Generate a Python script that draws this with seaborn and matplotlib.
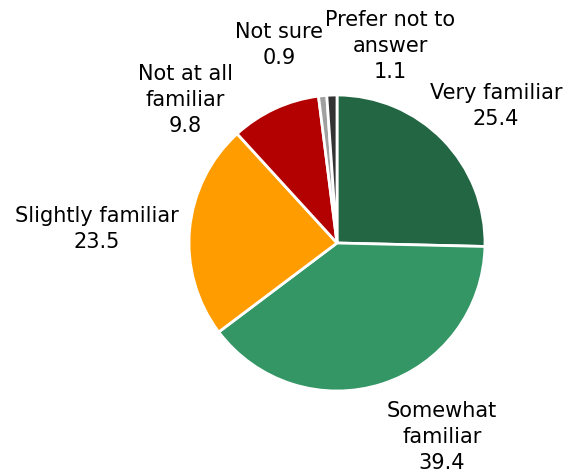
import matplotlib
matplotlib.use("Agg")
import matplotlib.pyplot as plt
import seaborn as sns

categories = ["Very familiar", "Somewhat familiar", "Slightly familiar",
              "Not at all familiar", "Not sure", "Prefer not to answer"]
values = [25.4, 39.4, 23.5, 9.8, 0.9, 1.1]
label_texts = ["Very familiar\n25.4", "Somewhat\nfamiliar\n39.4", "Slightly familiar\n23.5",
               "Not at all\nfamiliar\n9.8", "Not sure\n0.9", "Prefer not to\nanswer\n1.1"]
colors = ["#226644", "#339664", "#FF9C00", "#B30000", "#A0A0A0", "#333333"]

sns.set_theme(style="white")
plt.rcParams['font.family'] = ['DejaVu Sans']

fig = plt.figure(figsize=(5.65, 4.76), dpi=100)
ax = fig.add_axes([0, 0, 1, 1])

H = 476
cx, cy, r = 337, H - 243, 148
ax.pie(values, colors=colors, startangle=90, counterclock=False,
       center=(cx, cy), radius=r, frame=True,
       wedgeprops=dict(edgecolor="white", linewidth=2))
ax.set_xlim(0, 565)
ax.set_ylim(0, 476)
ax.set_aspect("equal")
ax.axis("off")

# label anchor positions (layout, pixel coordinates from top-left)
label_pos = [(496, 106), (442, 437), (97, 229), (185, 100), (279, 45), (390, 46)]
for txt, (x, y) in zip(label_texts, label_pos):
    ax.text(x, H - y, txt, ha="center", va="center", fontsize=15,
            linespacing=1.36, color="black")

fig.savefig("out.png", dpi=100)
